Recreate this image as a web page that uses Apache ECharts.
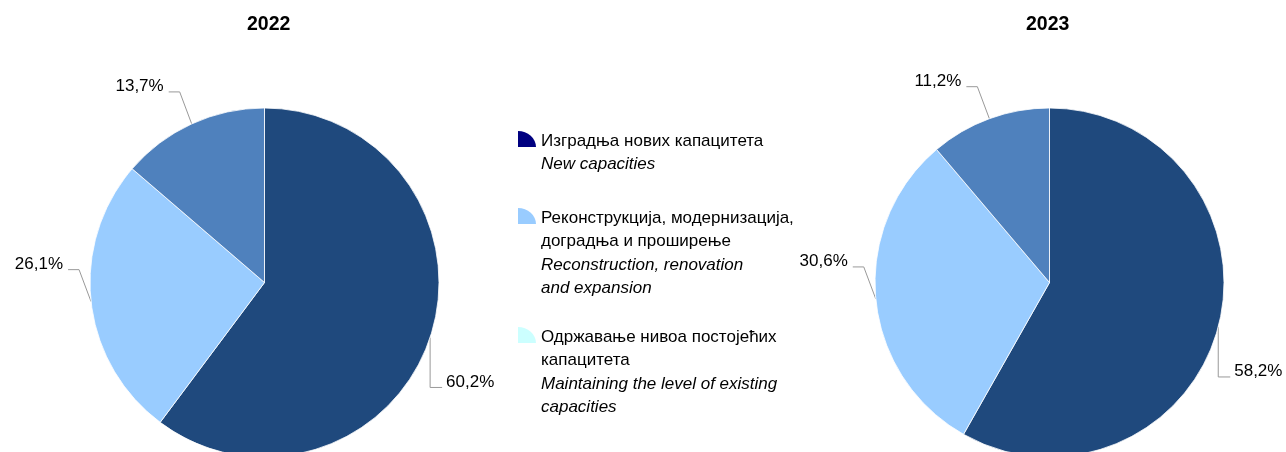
<!DOCTYPE html>
<html>
<head>
<meta charset="utf-8">
<script src="https://cdn.jsdelivr.net/npm/echarts@6/dist/echarts.min.js"></script>
<style>
  html, body { margin: 0; padding: 0; background: #fff; }
  #chart { width: 1286px; height: 452px; }
</style>
</head>
<body>
<div id="chart"></div>
<script>
const years = ['2022', '2023']
const values2022 = [60.2, 26.1, 13.7]
const values2023 = [58.2, 30.6, 11.2]
const linesSr = [
  ['Изградња нових капацитета'],
  ['Реконструкција, модернизација,', 'доградња и проширење'],
  ['Одржавање нивоа постојећих', 'капацитета']
]
const linesEn = [
  ['New capacities'],
  ['Reconstruction, renovation', 'and expansion'],
  ['Maintaining the level of existing', 'capacities']
]
const categories = linesSr.map(l => l.join(' '))

const sliceColors = ['#1F497D', '#99CCFF', '#4F81BD']
const legendColors = ['#000080', '#99CCFF', '#CCFFFF']
const FONT = '"Liberation Sans", Arial, sans-serif'
const FS = 17
const LINE_H = 23.5

const chart = echarts.init(document.getElementById('chart'))

const fmtPct = v => v.toFixed(1).replace('.', ',') + '%'

// Excel-like leader lines: left labels go up-left, right labels drop straight down
const labelLayout = (p) => {
  const pts = p.labelLinePoints
  if (!pts) return {}
  const p0 = pts[0]
  const right = pts[pts.length - 1][0] > p0[0]
  const elbow = right ? [p0[0], p0[1] + 50] : [p0[0] - 12, p0[1] - 32]
  const end = [elbow[0] + (right ? 12 : -11), elbow[1]]
  return {
    x: end[0] + (right ? 4 : -5),
    y: elbow[1] + 3,
    align: right ? 'left' : 'right',
    verticalAlign: 'bottom',
    labelLinePoints: [p0, elbow, end]
  }
}

const makePie = (values, center) => ({
  type: 'pie',
  center: center,
  radius: 174.5,
  startAngle: 90,
  clockwise: true,
  avoidLabelOverlap: false,
  animation: false,
  emphasis: { disabled: true },
  itemStyle: { borderColor: '#fff', borderWidth: 0.8 },
  label: {
    show: true,
    position: 'outside',
    width: 70,
    formatter: (p) => fmtPct(p.value),
    fontFamily: FONT,
    fontSize: FS,
    color: '#000'
  },
  labelLine: { show: true, length: 30, length2: 12, lineStyle: { color: '#999', width: 1 } },
  labelLayout: labelLayout,
  data: categories.map((name, i) => ({
    name: name,
    value: values[i],
    itemStyle: { color: sliceColors[i] }
  }))
})

// one legend per entry so the marker sits on the first text line
const legendTops = [129.3, 206.3, 325.3]
const legends = categories.map((name, i) => {
  const n = linesSr[i].length + linesEn[i].length
  const h = n * LINE_H
  const b = 17.7
  return {
    left: 518,
    top: legendTops[i],
    padding: 0,
    orient: 'vertical',
    selectedMode: false,
    itemWidth: 18,
    itemHeight: h,
    itemStyle: { borderWidth: 0 },
    icon: `path://M0,0M0,${b}L0,${b - 16}A18,16 0 0 1 18,${b}ZM0,${h}`,
    data: [{ name: name, itemStyle: { color: legendColors[i], borderWidth: 0 } }],
    formatter: () => linesSr[i].map(s => `{sr|${s}}`)
      .concat(linesEn[i].map(s => `{en|${s}}`)).join('\n'),
    textStyle: {
      rich: {
        sr: { fontFamily: FONT, fontSize: FS, lineHeight: LINE_H, color: '#000' },
        en: { fontFamily: FONT, fontSize: FS, lineHeight: LINE_H, color: '#000', fontStyle: 'italic' }
      }
    }
  }
})

const titleStyle = { fontFamily: FONT, fontSize: 19.5, fontWeight: 'bold', color: '#000' }

chart.setOption({
  backgroundColor: '#fff',
  animation: false,
  title: [
    { text: years[0], left: 247, top: 15, padding: 0, textStyle: titleStyle },
    { text: years[1], left: 1026, top: 15, padding: 0, textStyle: titleStyle }
  ],
  legend: legends,
  series: [
    makePie(values2022, [264.5, 282.5]),
    makePie(values2023, [1049.5, 282.5])
  ]
})
</script>
</body>
</html>
